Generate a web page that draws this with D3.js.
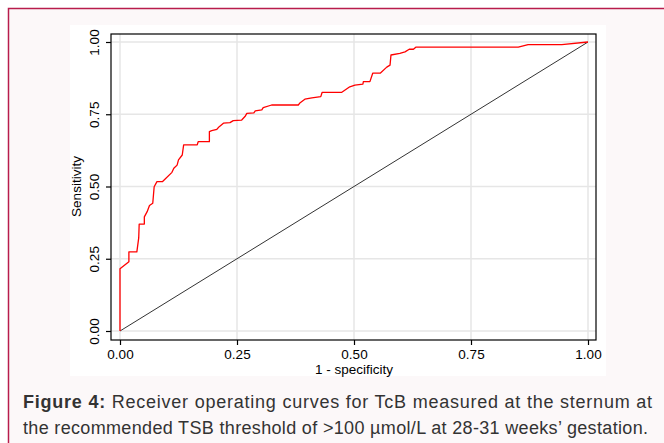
<!DOCTYPE html>
<html>
<head>
<meta charset="utf-8">
<script src="https://cdn.jsdelivr.net/npm/d3@7"></script>
<style>
  html, body { margin: 0; padding: 0; background: #ffffff; }
  svg { display: block; }
  text { font-family: "Liberation Sans", Arial, Helvetica, sans-serif; }
</style>
</head>
<body>
<svg id="chart" width="664" height="443"></svg>
<script>
// ---- data ----
const xTicks = [0, 0.25, 0.5, 0.75, 1];
const yTicks = [0, 0.25, 0.5, 0.75, 1];
const xTickLabels = ["0.00", "0.25", "0.50", "0.75", "1.00"];
const yTickLabels = ["0.00", "0.25", "0.50", "0.75", "1.00"];
const xTitle = "1 - specificity";
const yTitle = "Sensitivity";
// ROC curve (1 - specificity, sensitivity)
const fpr = [0, 0, 0.019, 0.019, 0.036, 0.040, 0.041, 0.052, 0.052, 0.058, 0.063, 0.070,
  0.073, 0.079, 0.091, 0.111, 0.115, 0.122, 0.125, 0.133, 0.136, 0.165, 0.167, 0.191,
  0.191, 0.196, 0.207, 0.212, 0.221, 0.235, 0.242, 0.260, 0.267, 0.271, 0.286, 0.289,
  0.303, 0.306, 0.324, 0.381, 0.385, 0.395, 0.410, 0.429, 0.432, 0.474, 0.491, 0.502,
  0.519, 0.520, 0.534, 0.540, 0.556, 0.570, 0.577, 0.579, 0.598, 0.609, 0.618, 0.627,
  0.632, 0.851, 0.872, 0.944, 1];
const tpr = [0, 0.215, 0.240, 0.274, 0.274, 0.322, 0.370, 0.370, 0.395, 0.413, 0.434, 0.442,
  0.499, 0.517, 0.517, 0.549, 0.563, 0.574, 0.592, 0.609, 0.644, 0.644, 0.655, 0.655,
  0.690, 0.693, 0.698, 0.707, 0.719, 0.721, 0.728, 0.730, 0.742, 0.753, 0.755, 0.762,
  0.765, 0.773, 0.782, 0.782, 0.790, 0.802, 0.807, 0.811, 0.826, 0.826, 0.845, 0.851,
  0.854, 0.863, 0.863, 0.892, 0.892, 0.913, 0.920, 0.955, 0.961, 0.966, 0.975, 0.975,
  0.982, 0.982, 0.991, 0.991, 1];
const refLine = [0, 1];
const captionBold = "Figure 4:";
const captionLine1 = " Receiver operating curves for TcB measured at the sternum at";
const captionLine2 = "the recommended TSB threshold of >100 \u00B5mol/L at 28-31 weeks\u2019 gestation.";

// ---- drawing ----
const svg = d3.select("#chart");

// outer figure box
svg.append("rect").attr("x", 8.5).attr("y", 8.5).attr("width", 700).attr("height", 500)
  .attr("fill", "#fcf8f9").attr("stroke", "#b81c4c").attr("stroke-width", 1.5);

// inner white graph panel
svg.append("rect").attr("x", 70).attr("y", 25).attr("width", 536).attr("height", 351)
  .attr("fill", "#ffffff");

const x = d3.scaleLinear().domain([0, 1]).range([120, 588]);
const y = d3.scaleLinear().domain([0, 1]).range([331, 42]);

const frame = { x0: 111, x1: 596, y0: 34, y1: 340 };

// grid
const grid = svg.append("g");
grid.selectAll(".gx").data(xTicks).join("line")
  .attr("x1", d => x(d)).attr("x2", d => x(d))
  .attr("y1", frame.y0).attr("y2", frame.y1)
  .attr("stroke", "#e6e6e6").attr("stroke-width", 1.5);
grid.selectAll(".gy").data(yTicks).join("line")
  .attr("y1", d => y(d)).attr("y2", d => y(d))
  .attr("x1", frame.x0).attr("x2", frame.x1)
  .attr("stroke", "#e6e6e6").attr("stroke-width", 1.5);

// reference diagonal
svg.append("path")
  .datum(refLine.map(v => [v, v]))
  .attr("d", d3.line().x(d => x(d[0])).y(d => y(d[1])))
  .attr("fill", "none").attr("stroke", "#333333").attr("stroke-width", 1);

// ROC curve
svg.append("path")
  .datum(fpr.map((v, i) => [v, tpr[i]]))
  .attr("d", d3.line().x(d => x(d[0])).y(d => y(d[1])))
  .attr("fill", "none").attr("stroke", "#ff0000").attr("stroke-width", 1.3)
  .attr("stroke-linejoin", "round");

// frame
svg.append("rect").attr("x", frame.x0).attr("y", frame.y0)
  .attr("width", frame.x1 - frame.x0).attr("height", frame.y1 - frame.y0)
  .attr("fill", "none").attr("stroke", "#000000").attr("stroke-width", 1.2);

// x axis
const xAxis = d3.axisBottom(x).tickValues(xTicks)
  .tickFormat((d, i) => xTickLabels[i]).tickSize(5).tickPadding(4);
const gx = svg.append("g").attr("transform", `translate(0,${frame.y1})`).call(xAxis);
gx.select(".domain").remove();
gx.selectAll(".tick line").attr("stroke", "#000").attr("stroke-width", 1.2);
gx.selectAll(".tick text").attr("font-size", 13.5).attr("fill", "#000")
  .attr("font-family", '"Liberation Sans", Arial, sans-serif');

// y axis
const yAxis = d3.axisLeft(y).tickValues(yTicks)
  .tickFormat((d, i) => yTickLabels[i]).tickSize(5).tickPadding(4);
const gy = svg.append("g").attr("transform", `translate(${frame.x0},0)`).call(yAxis);
gy.select(".domain").remove();
gy.selectAll(".tick line").attr("stroke", "#000").attr("stroke-width", 1.2);
gy.selectAll(".tick text")
  .attr("font-size", 13.5).attr("fill", "#000")
  .attr("font-family", '"Liberation Sans", Arial, sans-serif')
  .attr("text-anchor", "middle").attr("x", 0).attr("dy", null)
  .attr("transform", "translate(-17,0) rotate(-90)")
  .attr("dominant-baseline", "central");

// axis titles
svg.append("text").attr("x", x(0.5)).attr("y", 374)
  .attr("text-anchor", "middle").attr("font-size", 13.5).attr("fill", "#000")
  .text(xTitle);
svg.append("text")
  .attr("transform", `translate(81,${y(0.5)}) rotate(-90)`)
  .attr("text-anchor", "middle").attr("font-size", 13.5).attr("fill", "#000")
  .text(yTitle);

// caption
const cap1 = svg.append("text").attr("x", 23).attr("y", 408)
  .attr("font-size", 18).attr("fill", "#333333")
  .attr("textLength", 629).attr("lengthAdjust", "spacing");
cap1.append("tspan").attr("font-weight", "bold").text(captionBold);
cap1.append("tspan").text(captionLine1);
svg.append("text").attr("x", 23).attr("y", 434)
  .attr("font-size", 18).attr("fill", "#333333")
  .attr("textLength", 625).attr("lengthAdjust", "spacing")
  .text(captionLine2);
</script>
</body>
</html>
